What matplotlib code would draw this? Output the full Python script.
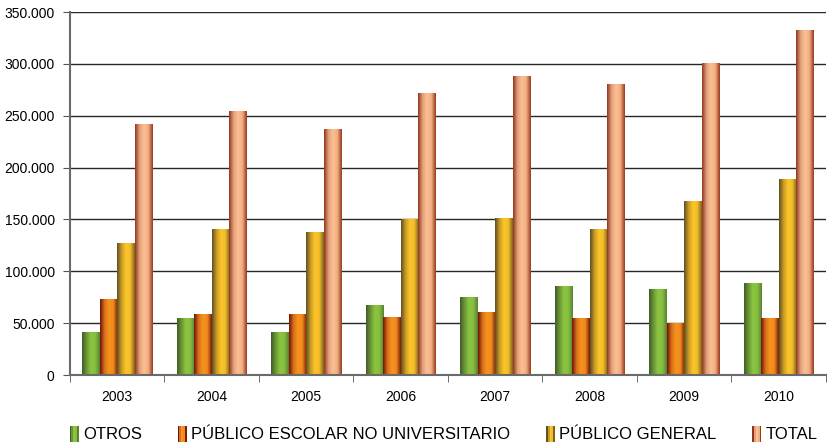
import numpy as np
import matplotlib
matplotlib.use('Agg')
import matplotlib.pyplot as plt
from matplotlib.colors import LinearSegmentedColormap
from matplotlib.ticker import FuncFormatter, MultipleLocator
from matplotlib.legend_handler import HandlerBase
from matplotlib.patches import Rectangle

plt.rcParams['font.family'] = ['Liberation Sans', 'DejaVu Sans']

years = ['2003', '2004', '2005', '2006', '2007', '2008', '2009', '2010']
series = ['OTROS', 'PÚBLICO ESCOLAR NO UNIVERSITARIO', 'PÚBLICO GENERAL', 'TOTAL']
otros = [41300, 54900, 40500, 67200, 74900, 85500, 82800, 88600]
escolar = [73000, 58800, 58800, 55600, 60400, 54700, 50000, 54800]
general = [127000, 140600, 137800, 150000, 151300, 140500, 167600, 188800]
total = [241700, 254300, 237000, 271700, 288000, 280300, 300700, 332300]

# gradient stops per series (left edge -> right edge)
grads = [
    ['#405c27', '#6a9636', '#8cc540', '#86bf3f', '#5b8033'],
    ['#6e1508', '#d8701a', '#f7931e', '#ef8a1c', '#7a1c0a'],
    ['#5f5021', '#c99a26', '#fcc62a', '#f2bc28', '#7a6420'],
    ['#93361c', '#e0a07c', '#fdc091', '#f2ad84', '#973a1c'],
]

fig = plt.figure(figsize=(8.27, 4.46), dpi=100)
ax = fig.add_axes([0.0846, 0.159, 0.914, 0.814])

x = np.arange(len(years))
w = 0.185
data = [otros, escolar, general, total]
grad = np.linspace(0, 1, 64).reshape(1, -1)
for k, vals in enumerate(data):
    cmap = LinearSegmentedColormap.from_list('g%d' % k, grads[k])
    bars = ax.bar(x + (k - 1.5) * w, vals, w, color=grads[k][2], zorder=2, linewidth=0)
    for b in bars:
        x0 = b.get_x()
        ax.imshow(grad, extent=[x0, x0 + b.get_width(), 0, b.get_height()],
                  aspect='auto', cmap=cmap, zorder=3, interpolation='bilinear')

ax.set_xlim(-0.5, len(years) - 0.5)
ax.set_ylim(0, 350000)
ax.yaxis.set_major_locator(MultipleLocator(50000))
ax.yaxis.set_major_formatter(FuncFormatter(lambda v, p: '{:,.0f}'.format(v).replace(',', '.')))
ax.set_xticks(x)
ax.set_xticklabels(years)
ax.set_xticks(np.arange(-0.5, len(years)), minor=True)
ax.tick_params(axis='x', which='major', length=0, pad=11, labelsize=10)
ax.tick_params(axis='x', which='minor', length=5, direction='out', color='#555555')
ax.tick_params(axis='y', length=5, direction='out', color='#555555', pad=6, labelsize=10)

ax.grid(axis='y', color='#262626', linewidth=1, zorder=1)
ax.set_axisbelow(True)
for s in ['top', 'right']:
    ax.spines[s].set_visible(False)
for s in ['left', 'bottom']:
    ax.spines[s].set_color('#6a6a6a')
    ax.spines[s].set_linewidth(1.5)
    ax.spines[s].set_zorder(4)


class GradHandler(HandlerBase):
    def create_artists(self, legend, orig, xd, yd, width, height, fontsize, trans):
        cols = orig.get_gid()
        arts = []
        n = len(cols)
        for i, c in enumerate(cols):
            arts.append(Rectangle((xd + i * width / n, yd - 2), width / n, height + 3,
                                  facecolor=c, edgecolor='none', transform=trans))
        return arts


handles = []
for k in range(4):
    r = Rectangle((0, 0), 1, 1)
    r.set_gid(grads[k])
    handles.append(r)

fig.legend(handles, series, loc='center left', bbox_to_anchor=(0.076, 0.025), ncol=4,
           frameon=False, fontsize=12, handler_map={Rectangle: GradHandler()},
           handlelength=0.55, handletextpad=0.25, columnspacing=2.15, borderaxespad=0)

plt.savefig('out.png', dpi=100)
